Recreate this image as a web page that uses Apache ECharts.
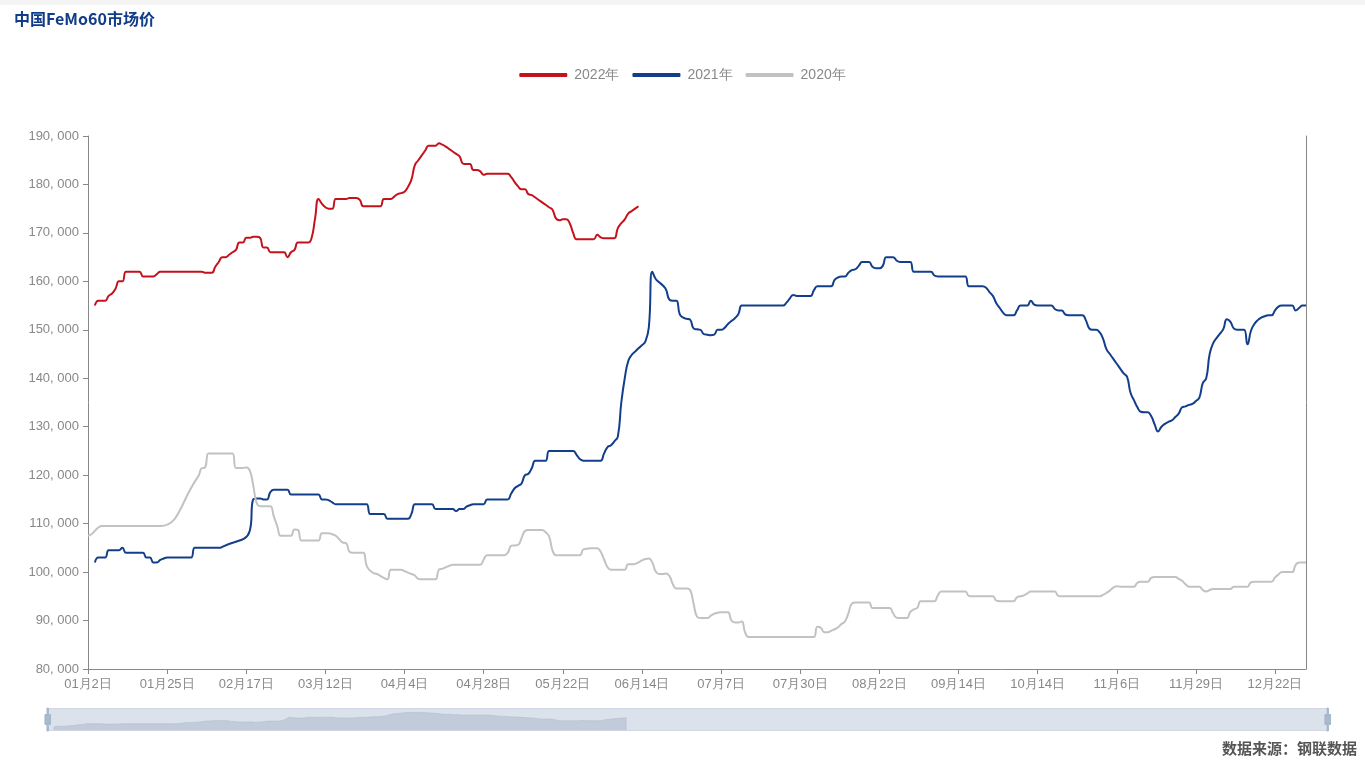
<!DOCTYPE html>
<html>
<head>
<meta charset="utf-8">
<title>中国FeMo60市场价</title>
<script src="https://cdn.jsdelivr.net/npm/echarts@6/dist/echarts.min.js"></script>
<style>
  html, body { margin: 0; padding: 0; background: #fff; }
  #main { width: 1365px; height: 768px; }
</style>
</head>
<body>
<div id="main"></div>
<script>
// 日期类目：1月2日 ~ 12月31日，去掉全年休市的日子
const skipDays = ['01月1日', '04月5日', '05月1日', '10月1日', '10月2日', '10月3日', '10月4日', '10月5日', '10月6日', '10月7日'];
const monthDays = [31, 28, 31, 30, 31, 30, 31, 31, 30, 31, 30, 31];
const categories = [];
monthDays.forEach((n, m) => {
  for (let d = 1; d <= n; d++) {
    const label = String(m + 1).padStart(2, '0') + '月' + d + '日';
    if (skipDays.indexOf(label) < 0) categories.push(label);
  }
});

const legendNames = ['2022年', '2021年', '2020年'];

const data2022 = [
  null, null, 155000, 156000, 156000, 156000, 157000, 157500, 158500, 160000,
  160000, 162000, 162000, 162000, 162000, 162000, 161000, 161000, 161000, 161000,
  161500, 162000, 162000, 162000, 162000, 162000, 162000, 162000, 162000, 162000,
  162000, 162000, 162000, 162000, 161800, 161800, 161800, 163000, 164000, 165000,
  165000, 165500, 166000, 166500, 168000, 168000, 169000, 169000, 169200, 169200,
  169000, 167000, 167000, 166000, 166000, 166000, 166000, 166000, 165000, 166000,
  166500, 168000, 168000, 168000, 168000, 169000, 173000, 177000, 176000, 175300,
  175000, 175000, 177000, 177000, 177000, 177000, 177200, 177200, 177200, 176800,
  175500, 175500, 175500, 175500, 175500, 175500, 177000, 177000, 177000, 177500,
  178000, 178200, 178500, 179500, 181000, 184000, 185000, 186000, 187000, 188000,
  188000, 188000, 188500, 188200, 187800, 187300, 186800, 186300, 185800, 184300,
  184200, 184200, 183000, 183000, 182700, 182000, 182200, 182200, 182200, 182200,
  182200, 182200, 182200, 181500, 180500, 179600, 179000, 179000, 178000, 177800,
  177300, 176800, 176300, 175800, 175300, 174800, 173000, 172600, 172800, 172800,
  172000, 170000, 168700, 168700, 168700, 168700, 168700, 168700, 169600, 169100,
  168900, 168900, 168900, 168900, 171000, 172000, 172800, 174000, 174500, 175000,
  175500
];

const data2021 = [
  null, null, 102000, 103000, 103000, 103000, 104500, 104500, 104500, 104500,
  105000, 104000, 104000, 104000, 104000, 104000, 104000, 103000, 103000, 102000,
  102000, 102500, 102800, 103000, 103000, 103000, 103000, 103000, 103000, 103000,
  103000, 105000, 105000, 105000, 105000, 105000, 105000, 105000, 105000, 105200,
  null, null, null, null, null, null, null, 108500, 115000, 115200,
  115200, 115000, 115000, 116500, 117000, 117000, 117000, 117000, 117000, 116000,
  116000, 116000, 116000, 116000, 116000, 116000, 116000, 116000, 115000, 115000,
  114800, 114400, 114000, 114000, 114000, 114000, 114000, 114000, 114000, 114000,
  114000, 114000, 112000, 112000, 112000, 112000, 112000, 111000, 111000, 111000,
  111000, 111000, 111000, 111000, 112000, 114000, 114000, 114000, 114000, 114000,
  114000, 113000, 113000, 113000, 113000, 113000, 113000, 112600, 113000, 113000,
  113500, 113800, 114000, 114000, 114000, 114000, 115000, 115000, 115000, 115000,
  115000, 115000, 115000, 116200, 117300, 117800, 118300, 120000, 120300, 121500,
  123000, 123000, 123000, 123000, 125000, 125000, 125000, 125000, 125000, 125000,
  125000, 125000, 124200, 123300, 123000, 123000, 123000, 123000, 123000, 123000,
  124500, 125800, 126200, 127000, 128000, 135000, 140000, 143500, 144800, 145500,
  146200, 146800, 147600, 150500, 162000, 160500, 159800, 159200, 158300, 156200,
  156000, 156000, 153200, 152500, 152300, 152100, 150300, 150100, 150000, 149100,
  149000, 148900, 149000, 150000, 150000, 150400, 151200, 151800, 152400, 153200,
  155000, 155000, 155000, 155000, 155000, 155000, 155000, 155000, 155000, 155000,
  155000, 155000, 155000, 155600, 156500, 157200, 157000, 157000, 157000, 157000,
  157000, 158200, 159000, 159000, 159000, 159000, 159000, 160300, 160800, 161000,
  161000, 161800, 162300, 162500, 163200, 164000, 164000, 164000, 163000, 162700,
  162700, 163200, 165000, 165000, 165000, 164300, 164000, 164000, 164000, 164000,
  162000, 162000, 162000, 162000, 162000, 162000, 161200, 161000, 161000, 161000,
  161000, 161000, 161000, 161000, 161000, 161000, 159000, 159000, 159000, 159000,
  159000, 158700, 157800, 157000, 155500, 154500, 153500, 153000, 153000, 153000,
  154000, 155000, 155000, 155000, 156000, 155200, 155000, 155000, 155000, 155000,
  155000, 154300, 154000, 154000, 153200, 153000, 153000, 153000, 153000, 153000,
  152000, 150300, 150000, 150000, 149500, 148200, 146000, 145000, 144000, 143000,
  142000, 141000, 140300, 137000, 135500, 134000, 133100, 133000, 133000, 132200,
  130500, 129000, 130000, 130600, 131000, 131300, 132000, 132700, 134000, 134200,
  134500, 134700, 135300, 136000, 139000, 140000, 145000, 147200, 148300, 149200,
  150200, 152200, 151700, 150300, 150000, 150000, 150000, 147000, 149800, 151200,
  152000, 152500, 152800, 153000, 153000, 154000, 154800, 155000, 155000, 155000,
  155000, 154000, 154500, 155000, 155000
];

const data2020 = [
  107500, 107800, 108500, 109200, 109500, 109500, 109500, 109500, 109500, 109500,
  109500, 109500, 109500, 109500, 109500, 109500, 109500, 109500, 109500, 109500,
  109500, 109500, null, null, null, null, null, null, null, null,
  null, null, 119700, 121400, 121600, 124500, 124500, 124500, 124500, 124500,
  124500, 124500, 124500, 121500, 121500, 121500, 121600, 121000, 118000, 114300,
  113600, 113600, 113600, 113600, 111500, 109500, 107500, 107500, 107500, 107500,
  108800, 108700, 106500, 106500, 106500, 106500, 106500, 106500, 108000, 108000,
  108000, 107800, 107500, 106800, 106100, 106000, 104200, 104000, 104000, 104000,
  104000, 101300, 100300, 99800, 99600, 99200, 98800, 98500, 100500, 100500,
  100500, 100500, 100200, 99900, 99600, 99300, 98600, 98500, 98500, 98500,
  98500, 98500, 100500, 100700, 101000, 101300, 101500, 101500, 101500, 101500,
  101500, 101500, 101500, 101500, 101500, 102600, 103500, 103500, 103500, 103500,
  103500, 103500, 104000, 105400, 105500, 105600, 107000, 108500, 108700, 108700,
  108700, 108700, 108700, 108200, 107400, 104500, 103500, 103500, 103500, 103500,
  103500, 103500, 103500, 103500, 104700, 104800, 104900, 104900, 104900, 104200,
  102600, 101000, 100500, 100500, 100500, 100500, 100500, 101600, 101600, 101700,
  102000, 102400, 102700, 102800, 102000, 100100, 99600, 99600, 99700, 99200,
  97500, 96600, 96600, 96600, 96600, 96300, 93500, 90800, 90500, 90500,
  90500, 91000, 91400, 91600, 91700, 91700, 91700, 90000, 89600, 89600,
  89800, 87500, 86600, 86600, 86600, 86600, 86600, 86600, 86600, 86600,
  86600, 86600, 86600, 86600, 86600, 86600, 86600, 86600, 86600, 86600,
  86600, 86600, 88700, 88500, 87600, 87600, 87900, 88200, 88600, 89300,
  89800, 91500, 93500, 93700, 93700, 93700, 93700, 93700, 92600, 92600,
  92600, 92600, 92600, 92600, 91500, 90600, 90500, 90500, 90500, 91800,
  92300, 92600, 94000, 94000, 94000, 94000, 94000, 95200, 96000, 96000,
  96000, 96000, 96000, 96000, 96000, 96000, 95100, 95000, 95000, 95000,
  95000, 95000, 95000, 95000, 94100, 94000, 94000, 94000, 94000, 94000,
  94800, 95000, 95200, 95600, 96000, 96000, 96000, 96000, 96000, 96000,
  96000, 96000, 95100, 95000, 95000, 95000, 95000, 95000, 95000, 95000,
  95000, 95000, 95000, 95000, 95000, 95300, 95700, 96200, 96800, 97100,
  97000, 97000, 97000, 97000, 97000, 97800, 98000, 98000, 98000, 98800,
  99000, 99000, 99000, 99000, 99000, 99000, 99000, 98600, 98200, 97500,
  97000, 97000, 97000, 97000, 96300, 96000, 96300, 96500, 96500, 96500,
  96500, 96500, 96500, 97000, 97000, 97000, 97000, 97000, 97900, 98000,
  98000, 98000, 98000, 98000, 98000, 98900, 99500, 100000, 100000, 100000,
  100000, 101500, 102000, 102000, 102000
];

const lineColors = ['#c4121c', '#123e8c', '#c2c2c2'];

const myChart = echarts.init(document.getElementById('main'));

// 补齐到类目长度，没有数据的日子留空
const fitToAxis = (arr) => categories.map((c, i) => (i < arr.length ? arr[i] : null));

const makeLine = (name, data, color) => ({
  name: name,
  type: 'line',
  data: fitToAxis(data),
  smooth: true,
  symbol: 'none',
  showSymbol: false,
  connectNulls: true,
  lineStyle: { color: color, width: 2 },
  itemStyle: { color: color },
});

const option = {
  animation: false,
  title: [
    {
      text: '中国FeMo60市场价',
      left: 9,
      top: 6,
      textStyle: {
        color: '#113c87',
        fontSize: 16,
        fontWeight: 'bold',
        fontFamily: 'Noto Sans CJK SC',
      },
    },
    {
      text: '数据来源：钢联数据',
      right: 3,
      bottom: 7,
      textStyle: {
        color: '#555',
        fontSize: 15,
        fontWeight: 'bold',
        fontFamily: 'Noto Sans CJK SC',
      },
    },
  ],
  graphic: [
    {
      type: 'rect',
      left: 0,
      top: 0,
      shape: { width: 1365, height: 5 },
      style: { fill: '#f4f4f4' },
    },
  ],
  legend: {
    data: legendNames,
    top: 63,
    left: 'center',
    icon: 'roundRect',
    itemWidth: 48,
    itemHeight: 4,
    itemGap: 13,
    textStyle: { color: '#888', fontSize: 14, padding: [0, 0, 0, 2] },
  },
  grid: {
    top: 136,
    left: 88,
    right: 59,
    bottom: 99,
  },
  xAxis: {
    type: 'category',
    boundaryGap: false,
    data: categories,
    axisLine: { lineStyle: { color: '#888' } },
    axisTick: { interval: 22, lineStyle: { color: '#888' } },
    axisLabel: { interval: 22, color: '#888', fontSize: 13, margin: 9 },
  },
  yAxis: [
    {
      type: 'value',
      min: 80000,
      max: 190000,
      interval: 10000,
      axisLine: { show: true, lineStyle: { color: '#888' } },
      axisTick: { show: true, lineStyle: { color: '#888' } },
      splitLine: { show: false },
      axisLabel: {
        color: '#888',
        fontSize: 13,
        margin: 9,
        formatter: (v) => v.toLocaleString('en-US').replace(/,/g, ', '),
      },
    },
    {
      type: 'value',
      position: 'right',
      min: 80000,
      max: 190000,
      interval: 10000,
      axisLine: { show: true, lineStyle: { color: '#888' } },
      axisTick: { show: false },
      axisLabel: { show: false },
      splitLine: { show: false },
    },
  ],
  dataZoom: [
    {
      type: 'slider',
      xAxisIndex: 0,
      start: 0,
      end: 100,
      left: 46,
      right: 37,
      top: 708,
      height: 23,
      showDetail: false,
      brushSelect: false,
      moveHandleSize: 0,
      backgroundColor: 'rgba(255,255,255,0)',
      borderColor: '#cfd7e4',
      fillerColor: 'rgba(167,183,204,0.4)',
      handleIcon: 'path://M8.2,13.6V3.9H6.3v9.7H3.1v14.9h3.3v9.7h1.8v-9.7h3.3V13.6H8.2z M9.7,24.4H4.8v-1.4h4.9V24.4z M9.7,19.1H4.8v-1.4h4.9V19.1z',
      handleSize: '100%',
      handleStyle: { color: '#a7b7cc', borderColor: '#a7b7cc' },
      dataBackground: {
        lineStyle: { color: '#b3bdcb', width: 0.5 },
        areaStyle: { color: '#c6cedb', opacity: 0.8 },
      },
      selectedDataBackground: {
        lineStyle: { color: '#b3bdcb', width: 0.5 },
        areaStyle: { color: '#c6cedb', opacity: 0.8 },
      },
    },
  ],
  series: [
    makeLine(legendNames[0], data2022, lineColors[0]),
    makeLine(legendNames[1], data2021, lineColors[1]),
    makeLine(legendNames[2], data2020, lineColors[2]),
  ],
};

myChart.setOption(option);
</script>
</body>
</html>
